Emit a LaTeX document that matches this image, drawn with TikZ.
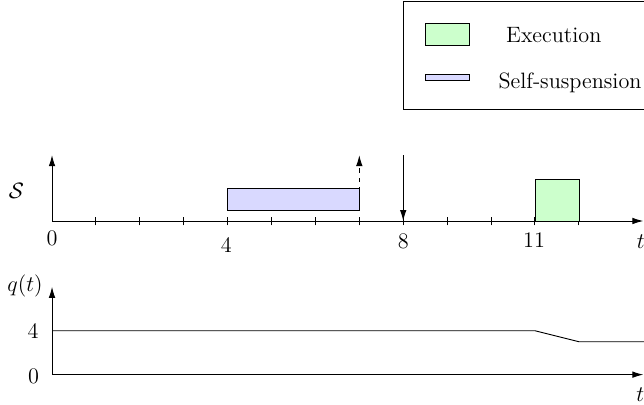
\documentclass[tikz,border=0pt]{standalone}
\usepackage{amsmath}
\usetikzlibrary{positioning, arrows.meta}
\begin{document}
\begin{tikzpicture}[
    every node/.style={font=\Large},
    arr/.style={-{Latex[length=2.5mm, width=1.5mm]}, semithick},
    execbox/.style={draw, fill=green!20},
    suspbox/.style={draw, fill=blue!15},
    tick/.style={semithick}
  ]
  \useasboundingbox (-1.185,-4.19) rectangle (13.485,5.034);
  % schedule of the task
  \coordinate (so) at (0,0);
  \coordinate (stop) at (0,1.5);
  \coordinate (send) at (13.47,0);
  \draw[arr] (so) -- (stop);
  \draw[arr] (so) -- (send);
  \foreach \i in {1,...,12}
    \draw[tick] (\i,-0.1) -- (\i,0.1);
  \node (s) at (-0.81,0.69) {$\mathcal{S}$};
  \node (t0) at (0,-0.4) {0};
  \node (t4) at (3.97,-0.55) {4};
  \node (t8) at (8,-0.47) {8};
  \node (t11) at (10.98,-0.43) {11};
  \node (st) at (13.41,-0.47) {$t$};
  \draw[suspbox] (4,0.25) rectangle (7,0.75);
  \draw[execbox] (11,0) rectangle (12,0.95);
  \coordinate (susp) at (7,0.25);
  \coordinate (susptop) at (7,1.5);
  \draw[arr, dashed] (susp) -- (susptop);
  \coordinate (reltop) at (8,1.5);
  \coordinate (rel) at (8,0);
  \draw[arr] (reltop) -- (rel);
  % q(t)
  \coordinate (qo) at (0,-3.5);
  \coordinate (qtop) at (0,-1.5);
  \coordinate (qend) at (13.47,-3.5);
  \draw[arr] (qo) -- (qtop);
  \draw[arr] (qo) -- (qend);
  \node (q) at (-0.615,-1.47) {$q(t)$};
  \node (q4) at (-0.43,-2.5) {4};
  \node (q0) at (-0.42,-3.55) {0};
  \node (qt) at (13.4,-3.96) {$t$};
  \draw[semithick] (0,-2.5) -- (11,-2.5) -- (12,-2.75) -- (13.485,-2.75);
  % legend
  \draw (8,2.55) rectangle (13.8,5.0);
  \draw[execbox] (8.5,4.0) rectangle (9.5,4.5);
  \node[anchor=base] (le) at (11.43,4.06) {Execution};
  \draw[suspbox] (8.5,3.2) rectangle (9.5,3.33);
  \node[anchor=base] (ls) at (11.8,3.02) {Self-suspension};
\end{tikzpicture}
\end{document}
